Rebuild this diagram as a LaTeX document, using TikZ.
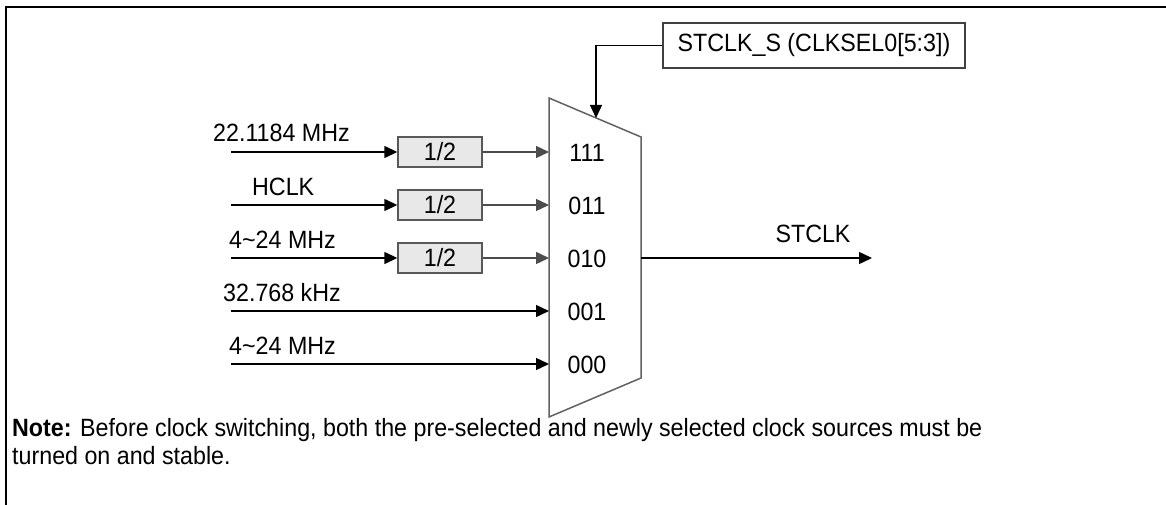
\documentclass[tikz,border=0pt]{standalone}
\usepackage{fontspec}
\setmainfont{Liberation Sans}[FakeStretch=0.93]
\usetikzlibrary{arrows.meta}
\begin{document}
\begin{tikzpicture}[x=1pt,y=-1pt,
  every node/.style={font=\fontsize{25}{28}\selectfont, inner sep=0pt},
  wire/.style={line width=1.4pt, -{Triangle[length=13pt,width=12pt]}},
  graywire/.style={wire, draw=black!70},
  divbox/.style={draw=black!65, fill=black!9, line width=1.4pt, minimum width=84pt, minimum height=30pt},
  selbox/.style={draw=black!75, fill=white, line width=1.3pt, minimum width=302pt, minimum height=45pt},
  lbl/.style={anchor=base west},
  muxline/.style={draw=black!62, line width=1.5pt}]
\useasboundingbox (0,0) rectangle (1166,505);
% frame
\draw[line width=2.5pt] (1166,7) -- (6,7) -- (6,505);
% multiplexer
\draw[muxline] (549,98) -- (641,137) -- (641,378) -- (549,417) -- cycle;
\coordinate (m1) at (549,152);
\coordinate (m2) at (549,205);
\coordinate (m3) at (549,258);
\coordinate (m4) at (549,311);
\coordinate (m5) at (549,364);
\coordinate (mout) at (641,258);
\coordinate (msel) at (596,118);
% port labels
\node (n1) at (587,153) {111};
\node (n2) at (587,206) {011};
\node (n3) at (587,259) {010};
\node (n4) at (587,312) {001};
\node (n5) at (587,365) {000};
% input starts
\coordinate (i1) at (231,152);
\coordinate (i2) at (231,205);
\coordinate (i3) at (231,258);
\coordinate (i4) at (231,311);
\coordinate (i5) at (231,364);
% dividers
\node[divbox] (d1) at (440,152) {1/2};
\node[divbox] (d2) at (440,205) {1/2};
\node[divbox] (d3) at (440,258) {1/2};
\draw[wire] (i1) -- (d1.west);
\draw[wire] (i2) -- (d2.west);
\draw[wire] (i3) -- (d3.west);
\draw[graywire] (d1.east) -- (m1);
\draw[graywire] (d2.east) -- (m2);
\draw[graywire] (d3.east) -- (m3);
\draw[wire] (i4) -- (m4);
\draw[wire] (i5) -- (m5);
% input labels
\node[lbl] (l1) at (213,142) {22.1184 MHz};
\node[lbl] (l2) at (252,195) {HCLK};
\node[lbl] (l3) at (229,248) {4\textasciitilde 24 MHz};
\node[lbl] (l4) at (223,301) {32.768 kHz};
\node[lbl] (l5) at (229,354) {4\textasciitilde 24 MHz};
% output
\coordinate (o) at (872,258);
\draw[wire] (mout) -- (o);
\node[anchor=base] (stclk) at (813,242) {STCLK};
% select
\node[selbox] (sel) at (814,45.5) {STCLK\_S (CLKSEL0[5:3])};
\draw[wire] (sel.west) -| (msel);
% note
\node[lbl] (note1) at (12,436) {\textbf{Note:} Before clock switching, both the pre-selected and newly selected clock sources must be};
\node[lbl] (note2) at (12,464) {turned on and stable.};
\end{tikzpicture}
\end{document}
